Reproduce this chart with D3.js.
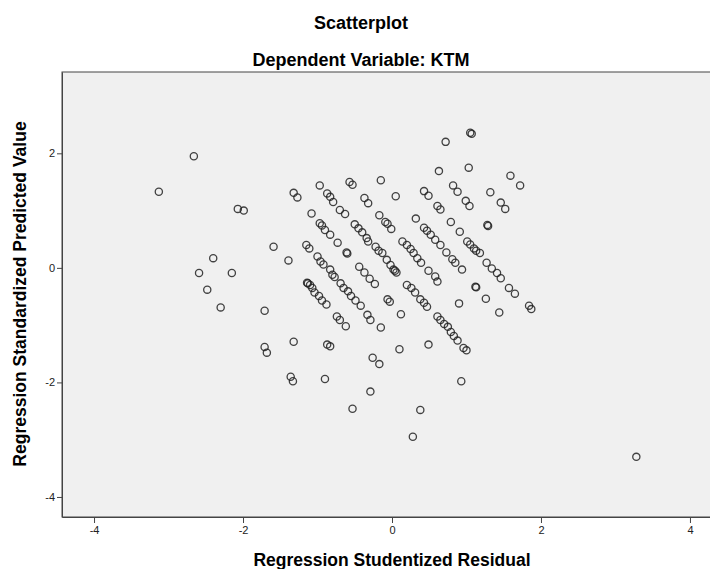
<!DOCTYPE html>
<html lang="en">
<head>
    <meta charset="UTF-8">
    <script src="https://d3js.org/d3.v7.min.js"></script>
    <style>
        body { margin: 0; background: #fff; }
        text { font-family: "Liberation Sans", Arial, sans-serif; }
    </style>
</head>
<body>
    <svg width="710" height="569" id="scatter-plot"></svg>

<script>
// Regression Studentized Residual (x) and Standardized Predicted Value (y)
const residual = [
    -3.13, -2.66, -2.07, -1.99, -2.40, -2.59, -2.15, -2.48, -2.30, -1.71,
    -1.71, -1.68, -1.59, -1.39, -1.32, -1.27, -0.97, -1.08, -0.87, -0.83,
    -0.79, -0.70, -0.63, -0.57, -0.53, -0.37, -0.32, -0.97, -0.94, -0.90,
    -0.83, -0.73, -1.15, -1.11, -0.61, -0.60, -1.00, -0.96, -0.92, -0.83,
    -0.80, -0.77, -0.50, -0.45, -0.40, -0.34, -0.32, -0.44, -0.37, -0.30,
    -1.32, -1.36, -1.33, -0.90, -1.14, -1.13, -1.10, -1.07, -1.04, -0.98,
    -0.94, -0.88, -0.74, -0.70, -0.62, -0.87, -0.83, -0.69, -0.65, -0.59,
    -0.55, -0.49, -0.42, -0.33, -0.29, -0.26, -0.17, -0.29, -0.53, 0.28,
    0.72, 1.05, 1.07, 0.63, 1.03, -0.15, 0.05, 0.43, 0.49, 0.82,
    0.88, 0.61, 0.65, 0.99, 1.04, -0.17, -0.09, -0.06, -0.01, 0.32,
    0.79, 0.43, 0.47, -0.22, -0.18, -0.13, -0.07, -0.02, 0.02, 0.04,
    0.06, 0.14, 0.20, 0.25, 0.29, 0.34, 0.39, 0.52, 0.58, 0.65,
    0.91, 1.01, 1.05, 0.73, 0.81, 0.85, 0.94, 0.49, 0.58, 0.61,
    -0.23, 0.20, 0.26, 0.31, 0.38, 0.43, 0.47, -0.06, -0.03, 0.12,
    0.61, 0.65, 0.70, 0.75, 0.79, 0.83, 0.88, 0.90, -0.15, 0.10,
    0.49, 0.96, 1.00, 0.93, 0.38, 1.59, 1.72, 1.32, 1.46, 1.52,
    1.28, 1.29, 1.10, 1.13, 1.18, 1.27, 1.34, 1.41, 1.46, 1.12,
    1.13, 1.57, 1.65, 1.26, 1.44, 1.84, 1.87, 3.28
];
const predicted = [
    1.33, 1.95, 1.03, 1.00, 0.17, -0.09, -0.09, -0.38, -0.69, -0.75,
    -1.38, -1.48, 0.37, 0.13, 1.31, 1.23, 1.44, 0.95, 1.30, 1.24,
    1.15, 1.01, 0.94, 1.50, 1.45, 1.22, 1.13, 0.78, 0.74, 0.66,
    0.58, 0.44, 0.40, 0.34, 0.27, 0.25, 0.20, 0.11, 0.06, -0.03,
    -0.12, -0.16, 0.76, 0.69, 0.62, 0.52, 0.46, 0.02, -0.08, -0.19,
    -1.29, -1.90, -1.98, -1.94, -0.26, -0.27, -0.30, -0.35, -0.43, -0.49,
    -0.57, -0.64, -0.85, -0.91, -1.02, -1.34, -1.37, -0.27, -0.35, -0.41,
    -0.49, -0.57, -0.66, -0.82, -0.91, -1.57, -1.68, -2.16, -2.46, -2.95,
    2.20, 2.36, 2.34, 1.69, 1.75, 1.53, 1.25, 1.34, 1.26, 1.44,
    1.33, 1.08, 1.02, 1.17, 1.08, 0.92, 0.80, 0.77, 0.68, 0.86,
    0.80, 0.70, 0.65, 0.37, 0.30, 0.26, 0.14, 0.05, -0.03, -0.05,
    -0.08, 0.46, 0.40, 0.33, 0.26, 0.17, 0.09, 0.58, 0.49, 0.40,
    0.63, 0.46, 0.41, 0.27, 0.15, 0.09, -0.03, -0.05, -0.15, -0.24,
    -0.28, -0.30, -0.35, -0.43, -0.55, -0.61, -0.68, -0.55, -0.59, -0.81,
    -0.85, -0.91, -0.98, -1.03, -1.12, -1.19, -1.27, -0.62, -1.04, -1.42,
    -1.34, -1.40, -1.44, -1.98, -2.48, 1.61, 1.44, 1.32, 1.14, 1.03,
    0.75, 0.73, 0.34, 0.30, 0.26, 0.09, -0.01, -0.09, -0.18, -0.33,
    -0.34, -0.35, -0.45, -0.54, -0.78, -0.66, -0.72, -3.30
];
const xTicks = [-4, -2, 0, 2, 4];
const yTicks = [-4, -2, 0, 2];
const xDomain = [-4.43, 4.43];
const yDomain = [-4.35, 3.42];

const points = residual.map((r, i) => ({ r: r, p: predicted[i] }));

const svg = d3.select("#scatter-plot");
const plot = { left: 62, top: 72, right: 722, bottom: 517 };
const titleX = 361; // chart titles sit on the centre of the (cropped) chart, not the plot

const xScale = d3.scaleLinear().domain(xDomain).range([plot.left, plot.right]);
const yScale = d3.scaleLinear().domain(yDomain).range([plot.bottom, plot.top]);

// Plot background
svg.append("rect")
    .attr("x", plot.left)
    .attr("y", plot.top)
    .attr("width", plot.right - plot.left)
    .attr("height", plot.bottom - plot.top)
    .attr("fill", "#f0f0f0")
    .attr("stroke", "#444")
    .attr("stroke-width", 1);

// Points
svg.append("g")
    .selectAll("circle")
    .data(points)
    .enter().append("circle")
    .attr("cx", d => xScale(d.r))
    .attr("cy", d => yScale(d.p))
    .attr("r", 3.6)
    .attr("fill", "none")
    .attr("stroke", "#222")
    .attr("stroke-width", 1.3)
    .attr("stroke-opacity", 0.85);

// Axes (plain hyphen for negatives, like the original)
const fmt = d => String(d);
const xAxis = svg.append("g")
    .attr("transform", "translate(0," + plot.bottom + ")")
    .call(d3.axisBottom(xScale).tickValues(xTicks).tickFormat(fmt).tickSize(6).tickSizeOuter(0).tickPadding(3));
const yAxis = svg.append("g")
    .attr("transform", "translate(" + plot.left + ",0)")
    .call(d3.axisLeft(yScale).tickValues(yTicks).tickFormat(fmt).tickSize(5).tickSizeOuter(0).tickPadding(2));

[xAxis, yAxis].forEach(function(ax) {
    ax.select(".domain").attr("stroke", "#444");
    ax.selectAll(".tick line").attr("stroke", "#444");
    ax.selectAll(".tick text")
        .attr("fill", "#222")
        .style("font-size", "11px");
});

// Titles
svg.append("text")
    .attr("x", titleX)
    .attr("y", 29)
    .style("text-anchor", "middle")
    .style("font-weight", "bold")
    .style("font-size", "18px")
    .text("Scatterplot");

svg.append("text")
    .attr("x", titleX)
    .attr("y", 66)
    .style("text-anchor", "middle")
    .style("font-weight", "bold")
    .style("font-size", "18px")
    .text("Dependent Variable: KTM");

svg.append("text")
    .attr("x", 392)
    .attr("y", 566)
    .style("text-anchor", "middle")
    .style("font-weight", "bold")
    .style("font-size", "17.5px")
    .text("Regression Studentized Residual");

svg.append("text")
    .attr("transform", "rotate(-90)")
    .attr("x", -294)
    .attr("y", 26)
    .style("text-anchor", "middle")
    .style("font-weight", "bold")
    .style("font-size", "17.5px")
    .text("Regression Standardized Predicted Value");
</script>
</body>
</html>
